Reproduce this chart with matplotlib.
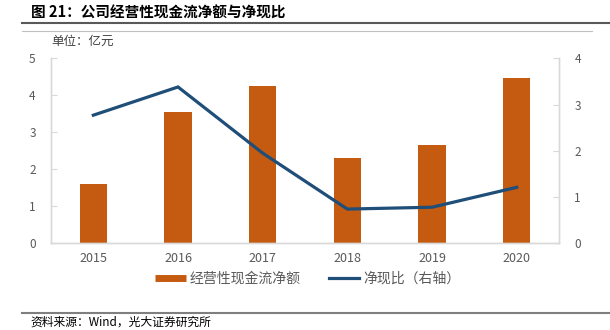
import numpy as np
import matplotlib.pyplot as plt
from matplotlib.lines import Line2D

plt.rcParams['font.family'] = ['Noto Sans CJK SC', 'DejaVu Sans']

# ---------------- data ----------------
years = ["2015", "2016", "2017", "2018", "2019", "2020"]
cash_flow = [1.59, 3.55, 4.25, 2.30, 2.67, 4.46]      # 经营性现金流净额（亿元）
cash_ratio = [2.77, 3.38, 1.95, 0.74, 0.78, 1.21]     # 净现比（右轴）

title = "图 21：公司经营性现金流净额与净现比"
unit_label = "单位：亿元"
bar_label = "经营性现金流净额"
line_label = "净现比（右轴）"
source = "资料来源：Wind，光大证券研究所"

bar_color = "#C55A11"
line_color = "#1F4E79"
tick_color = "#595959"
spine_color = "#D9D9D9"

fig = plt.figure(figsize=(6.1, 3.3), dpi=100)

# ---------------- header / footer decorations ----------------
fig.text(31 / 610, 1 - 13 / 330, title, fontsize=10.5, fontweight="bold",
         va="center", ha="left", color="#000000")
fig.add_artist(Line2D([22 / 610, 1.0], [1 - 22.7 / 330] * 2,
                      color="#595959", lw=1.5, transform=fig.transFigure))
fig.add_artist(Line2D([22 / 610, 592 / 610], [1 - 30.7 / 330] * 2,
                      color="#BFBFBF", lw=0.8, transform=fig.transFigure))
fig.text(51 / 610, 1 - 41 / 330, unit_label, fontsize=9, va="center",
         ha="left", color="#404040")
fig.add_artist(Line2D([22 / 610, 1.0], [1 - 312.7 / 330] * 2,
                      color="#7F7F7F", lw=1.5, transform=fig.transFigure))
# source line sits at the very bottom edge, as in the reference
fig.text(30 / 610, 1 / 330, source, fontsize=8.5, va="bottom",
         ha="left", color="#000000")

# ---------------- main axes ----------------
ax = fig.add_axes([51 / 610, (330 - 243.3) / 330, 508 / 610, 185 / 330])
x = np.arange(len(years))
ax.bar(x, cash_flow, width=0.32, color=bar_color, zorder=2)
ax.set_xlim(-0.5, len(years) - 0.5)
ax.set_ylim(0, 5)
ax.set_yticks(range(0, 6))
ax.set_xticks(x)
ax.set_xticklabels(years)

ax2 = ax.twinx()
ax2.plot(x, cash_ratio, color=line_color, lw=2.3, zorder=3,
         solid_joinstyle="miter")
ax2.set_ylim(0, 4)
ax2.set_yticks(range(0, 5))

for a in (ax, ax2):
    a.spines["top"].set_visible(False)
    for s in ("left", "right", "bottom"):
        a.spines[s].set_color(spine_color)
        a.spines[s].set_linewidth(1.0)
    a.tick_params(axis="y", direction="in", length=4, color=spine_color,
                  labelcolor=tick_color, labelsize=8.5, pad=11)
ax.tick_params(axis="x", length=0, labelcolor=tick_color, labelsize=9, pad=6)

# ---------------- legend ----------------
handles = [
    Line2D([0], [0], color=bar_color, lw=5, solid_capstyle="butt"),
    Line2D([0], [0], color=line_color, lw=2.3),
]
fig.legend(handles, [bar_label, line_label], loc="center",
           bbox_to_anchor=(308 / 610, 1 - 279 / 330), ncol=2, frameon=False,
           fontsize=10, handlelength=2.2, handletextpad=0.3,
           columnspacing=2.0, labelcolor=tick_color)

fig.savefig("out.png", dpi=100)
